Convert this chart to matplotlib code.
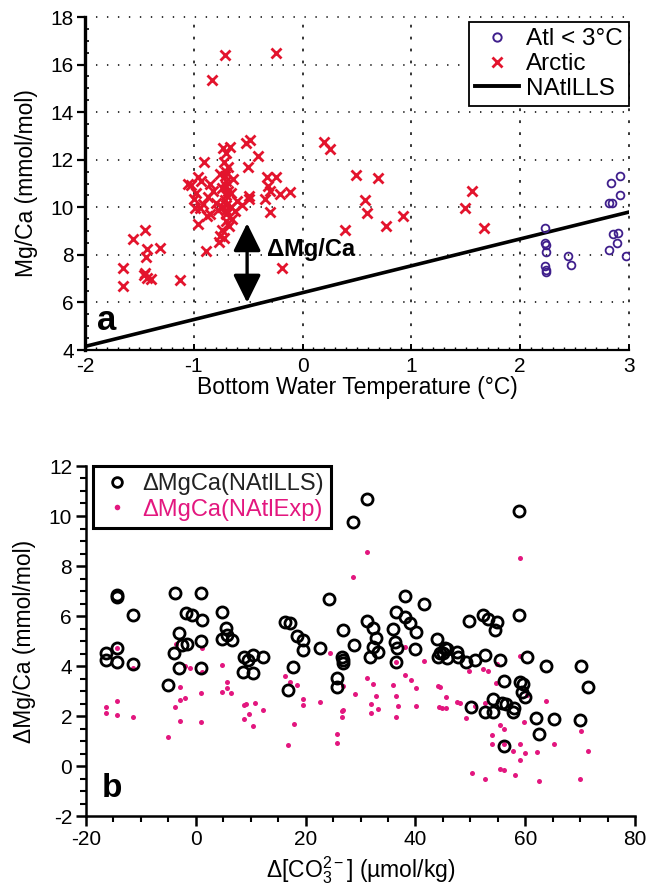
import matplotlib
matplotlib.use("Agg")
import matplotlib.pyplot as plt
from matplotlib.ticker import MultipleLocator
from matplotlib.lines import Line2D

plt.rcParams['font.family'] = ['Liberation Sans', 'DejaVu Sans']
plt.rcParams['mathtext.fontset'] = 'custom'
plt.rcParams['mathtext.rm'] = 'Liberation Sans'
plt.rcParams['mathtext.it'] = 'Liberation Sans:italic'
plt.rcParams['mathtext.bf'] = 'Liberation Sans:bold'
plt.rcParams['lines.scale_dashes'] = False
plt.rcParams['axes.unicode_minus'] = False

# ---------------- panel a data ----------------
atl_T = [2.23, 2.23, 2.24, 2.24, 2.23, 2.24, 2.24, 2.44, 2.47,
         2.83, 2.92, 2.92, 2.82, 2.84, 2.85, 2.90, 2.89, 2.82, 2.97]
atl_mgca = [9.15, 8.48, 8.40, 8.12, 7.52, 7.38, 7.27, 7.96, 7.59,
            11.02, 11.33, 10.52, 10.17, 10.20, 8.86, 8.90, 8.51, 8.20, 7.95]

arctic_T = [-1.65, -1.65, -1.56, -1.45, -1.43, -1.44, -1.31, -1.46, -1.43, -1.39, -1.13, -1.45,
            -1.05, -1.03, -0.96, -0.93, -0.98, -1.00, -0.99, -0.94, -0.96, -0.88, -0.85, -0.89,
            -0.91, -0.92, -0.87, -0.85, -0.82, -0.80, -0.78, -0.77, -0.76, -0.74, -0.72, -0.68,
            -0.70, -0.65,
            -0.70, -0.70, -0.70, -0.71, -0.70, -0.69, -0.70, -0.70, -0.71, -0.70, -0.69, -0.72,
            -0.73, -0.67, -0.70, -0.66, -0.66, -0.64, -0.74, -0.74, -0.76,
            -0.60, -0.49, -0.49, -0.52, -0.48, -0.41, -0.50, -0.33, -0.24, -0.30, -0.21, -0.12,
            -0.35, -0.32, -0.30, -0.19, -0.62, -0.56,
            -0.71, -0.245, -0.83,
            0.20, 0.25, 0.49, 0.69, 0.57, 0.59, 0.39, 0.77, 0.92, 1.49, 1.56, 1.67]
arctic_mgca = [7.45, 6.71, 8.68, 9.03, 8.23, 7.92, 8.27, 7.17, 7.03, 6.99, 6.96, 7.25,
               10.98, 10.95, 11.26, 11.12, 10.60, 10.34, 9.99, 9.99, 9.29, 9.64, 9.71, 8.16,
               11.89, 10.15, 10.45, 11.00, 10.70, 10.20, 9.90, 8.55, 8.80, 9.05, 8.70, 9.20,
               9.43, 9.50,
               9.70, 9.90, 10.10, 10.30, 10.50, 10.70, 10.90, 11.10, 11.30, 11.50, 11.70, 11.90,
               12.49, 12.53, 12.30, 10.00, 10.60, 11.20, 10.80, 10.00, 11.40,
               10.27, 10.49, 10.34, 12.70, 12.84, 12.17, 11.71, 11.26, 11.26, 10.69, 10.55, 10.65,
               10.34, 10.90, 9.80, 7.45, 9.85, 10.10,
               16.40, 16.47, 15.35,
               12.74, 12.46, 11.37, 11.22, 10.31, 9.78, 9.03, 9.22, 9.64, 9.96, 10.69, 9.12]

# NAtlLLS calibration line end points
lls_T = [-2.0, 3.0]
lls_mgca = [4.15, 9.80]

# Delta Mg/Ca arrow (temperature, lower and upper Mg/Ca)
arrow_T = -0.51
arrow_lo = 5.99
arrow_hi = 9.33

# ---------------- panel b data ----------------
lls_dco3 = [-14.3, -14.3, -11.4, -16.4, -16.4, -14.3, -14.3, -11.4, -5.0, -3.8, 0.9, -1.8, -0.75,
            1.07, 4.72, -3.0, 5.5, 5.66, 4.72, 6.54, -2.57, -1.66, -3.92, 0.89, -3.0, 0.89,
            8.85, 9.58, 10.49, 12.19, 8.67, 10.36,
            31.1, 28.7, 24.3, 16.25, 17.16, 18.37, 19.46, 19.46, 22.6, 17.77, 16.86, 26.74, 28.87,
            26.56, 26.74, 26.74, 25.65, 25.65, 31.1, 32.3, 32.8, 32.3, 33.2, 31.7, 36.5, 38.1,
            39.0, 38.1, 41.6, 35.85, 36.3, 36.7, 36.4, 40.2, 39.9, 44.0, 44.4, 45.0, 45.7, 44.2,
            45.7,
            58.9, 58.9, 49.8, 52.4, 53.3, 54.8, 54.5, 47.5, 47.8, 49.3, 50.9, 52.7, 55.4, 60.4,
            63.8, 70.1, 71.4, 56.1, 59.05, 59.65, 59.4, 60.0, 54.1, 55.7, 56.5, 58.0, 50.2, 52.7,
            54.2, 57.7, 62.0, 65.3, 70.0, 62.5, 56.2, 45.4]
lls_dmgca = [6.84, 6.77, 6.04, 4.51, 4.24, 4.71, 4.17, 4.08, 3.24, 6.91, 6.91, 6.11, 6.04,
             5.84, 6.17, 5.31, 5.51, 5.24, 5.08, 5.04, 4.84, 4.87, 4.51, 5.00, 3.91, 3.91,
             4.37, 4.24, 4.44, 4.37, 3.77, 3.73,
             10.68, 9.77, 6.67, 5.75, 5.71, 5.21, 5.04, 4.64, 4.71, 3.97, 3.04, 5.44, 4.84,
             4.37, 4.24, 4.13, 3.51, 3.17, 5.80, 5.51, 5.11, 4.77, 4.57, 4.37, 6.17, 5.97,
             5.71, 6.80, 6.47, 5.48, 4.97, 4.71, 4.15, 5.35, 4.68, 5.08, 4.54, 4.51, 4.68, 4.37,
             4.33,
             10.20, 6.04, 5.81, 6.04, 5.87, 5.75, 5.44, 4.57, 4.37, 4.17, 4.24, 4.44, 4.24, 4.37,
             4.00, 4.00, 3.17, 3.41, 3.37, 3.28, 2.97, 2.75, 2.70, 2.53, 2.48, 2.31, 2.37, 2.17,
             2.17, 2.17, 1.93, 1.87, 1.84, 1.27, 0.80, 4.71]

exp_dco3 = [-14.3, -11.38, -3.67, 1.07, -1.97, -1.06, 1.07, 4.72, 5.61, 5.61, 4.72, 6.41, -2.88,
            -2.88, -1.97, -3.79, 0.89, -14.4, -16.36, -16.36, -14.4, -11.38, -5.0, -2.88, 0.95,
            8.8, 9.1, 9.7, 10.8, 12.2, 8.8, 10.4,
            31.1, 28.57, 24.4, 16.25, 17.16, 18.4, 19.46, 19.46, 22.6, 17.9, 16.86, 25.65, 25.65,
            26.56, 26.86, 26.56, 26.86, 29.0, 31.2, 32.3, 32.0, 32.8, 33.2, 31.9, 35.85, 36.5,
            36.9, 36.5, 36.5, 38.1, 38.1, 39.2, 40.2, 40.1, 41.6, 44.1, 45.6, 44.3, 44.8, 45.6,
            47.6, 48.1,
            49.3, 50.9, 52.7, 54.7, 60.4, 63.8, 59.8, 55.4, 56.2, 54.0, 54.0, 56.1, 59.05, 57.7,
            60.0, 59.05, 62.1, 65.3, 70.1, 71.4, 55.4, 56.1, 50.4, 52.7, 58.1, 62.5, 70.0,
            59.05, 59.05, 54.8, 49.8, 52.4, 53.3, 44.5]
exp_dmgca = [4.71, 3.91, 4.90, 4.73, 4.00, 3.91, 3.77, 4.04, 3.35, 3.13, 2.97, 2.93, 3.17,
             2.64, 2.73, 2.37, 2.91, 2.61, 2.37, 2.11, 2.04, 1.95, 1.15, 1.80, 1.77,
             2.44, 2.48, 2.08, 2.53, 2.24, 1.87, 1.61,
             8.55, 7.55, 4.54, 3.61, 3.37, 3.24, 2.70, 2.46, 2.57, 1.70, 0.84, 1.28, 0.93,
             2.21, 2.24, 1.95, 3.20, 2.88, 3.51, 3.28, 2.50, 2.80, 2.27, 2.11, 3.24, 2.80,
             2.41, 1.97, 4.17, 4.75, 3.64, 3.44, 3.11, 2.41, 4.20, 3.20, 2.77, 2.37, 2.31, 2.33,
             2.57, 2.51,
             1.93, 2.40, 2.53, 3.31, 2.84, 2.60, 1.77, 1.66, 1.47, 1.24, 0.87, 0.87, 0.87, 0.61,
             0.53, 0.24, 0.57, 0.87, 1.40, 0.61, -0.13, -0.16, -0.29, -0.51, -0.36, -0.60, -0.52,
             8.31, 4.40, 4.08, 3.81, 3.88, 3.81, 3.17]

ATL_C = '#3f1f8c'
ARC_C = '#e3142d'
EXP_C = '#e3177f'
TICK_FS = 15
LABEL_FS = 16.5

W, H = 655, 888
fig = plt.figure(figsize=(W / 100, H / 100), dpi=100)

def frac(l, t, r, b):
    return [l / W, 1 - b / H, (r - l) / W, (b - t) / H]

# ---------------- panel a ----------------
ax1 = fig.add_axes(frac(85, 17, 629, 350))
ax1.set_xlim(-2, 3)
ax1.set_ylim(4, 18)
for s in ('top', 'right'):
    ax1.spines[s].set_visible(False)
ax1.spines['left'].set_linewidth(2.4)
ax1.spines['bottom'].set_linewidth(1.6)

# dotted grid, horizontal and vertical lines with different dot patterns
for yv in range(6, 19, 2):
    ax1.axhline(yv, color='black', lw=1.1, ls=(0, (1.0, 6.9)), zorder=0, clip_on=False)
for xv in range(-1, 4):
    ax1.axvline(xv, color='black', lw=1.1, ls=(0, (2.0, 6.6)), zorder=0, clip_on=False)

ax1.xaxis.set_major_locator(MultipleLocator(1))
ax1.xaxis.set_minor_locator(MultipleLocator(0.1))
ax1.yaxis.set_major_locator(MultipleLocator(2))
ax1.yaxis.set_minor_locator(MultipleLocator(0.5))
ax1.tick_params(axis='y', which='major', direction='out', length=6, width=1.6, labelsize=TICK_FS, pad=2)
ax1.tick_params(axis='y', which='minor', direction='in', length=3, width=1.2)
ax1.tick_params(axis='x', which='major', direction='in', length=4, width=1.4, labelsize=TICK_FS, pad=5)
ax1.tick_params(axis='x', which='minor', direction='in', length=2.5, width=1.0)

ax1.plot(lls_T, lls_mgca, color='black', lw=2.6, zorder=3)
ax1.plot(arctic_T, arctic_mgca, ls='none', marker='x', ms=7, mew=2.0, color=ARC_C, zorder=4)
ax1.plot(atl_T, atl_mgca, ls='none', marker='o', ms=5.6, mew=1.3, mfc='none', mec=ATL_C, zorder=4)

ax1.annotate('', xy=(arrow_T, arrow_lo), xytext=(arrow_T, arrow_hi),
             arrowprops=dict(arrowstyle='<|-|>,head_length=0.85,head_width=0.42',
                             mutation_scale=20, lw=2.4, color='black',
                             shrinkA=0, shrinkB=0), zorder=5)
ax1.text(-0.33, (arrow_lo + arrow_hi) / 2 + 0.55, 'ΔMg/Ca', fontsize=17, fontweight='bold',
         va='center', ha='left')
ax1.text(0.022, 0.06, 'a', transform=ax1.transAxes, fontsize=25, fontweight='bold',
         ha='left', va='baseline')

ax1.set_xlabel('Bottom Water Temperature (°C)', fontsize=LABEL_FS, labelpad=0)
ax1.set_ylabel('Mg/Ca (mmol/mol)', fontsize=LABEL_FS, labelpad=9)

h_atl = Line2D([], [], ls='none', marker='o', ms=6, mew=1.4, mfc='none', mec=ATL_C)
h_arc = Line2D([], [], ls='none', marker='x', ms=7, mew=2.0, color=ARC_C)
h_lls = Line2D([], [], color='black', lw=2.8)
leg1 = ax1.legend([h_atl, h_arc, h_lls], ['Atl < 3°C', 'Arctic', 'NAtlLLS'],
                  loc='upper right', bbox_to_anchor=(1.0, 0.985), borderaxespad=0,
                  fontsize=17.5, fancybox=False, framealpha=1, edgecolor='black',
                  handlelength=1.8, handletextpad=0.3, labelspacing=0.12,
                  borderpad=0.25)
leg1.get_frame().set_linewidth(1.3)

# ---------------- panel b ----------------
ax2 = fig.add_axes(frac(86, 466, 635, 816))
ax2.set_xlim(-20, 80)
ax2.set_ylim(-2, 12)
for s in ('top', 'right'):
    ax2.spines[s].set_visible(False)
for s in ('left', 'bottom'):
    ax2.spines[s].set_linewidth(1.8)
ax2.xaxis.set_major_locator(MultipleLocator(20))
ax2.xaxis.set_minor_locator(MultipleLocator(5))
ax2.yaxis.set_major_locator(MultipleLocator(2))
ax2.yaxis.set_minor_locator(MultipleLocator(0.5))
ax2.tick_params(axis='both', which='major', direction='out', length=7, width=1.8,
                labelsize=TICK_FS, pad=3)
ax2.tick_params(axis='both', which='minor', direction='out', length=4.5, width=1.5)

ax2.plot(exp_dco3, exp_dmgca, ls='none', marker='o', ms=3.6, mew=0, color=EXP_C, zorder=3)
ax2.plot(lls_dco3, lls_dmgca, ls='none', marker='o', ms=8, mew=2.0, mfc='none', mec='black', zorder=4)

ax2.text(0.029, 0.054, 'b', transform=ax2.transAxes, fontsize=24, fontweight='bold',
         ha='left', va='baseline')
ax2.set_xlabel('Δ[CO$_3^{2-}$] (µmol/kg)', fontsize=LABEL_FS, labelpad=4)
ax2.set_ylabel('ΔMg/Ca (mmol/mol)', fontsize=LABEL_FS, labelpad=9)

h_l = Line2D([], [], ls='none', marker='o', ms=7, mew=2.0, mfc='none', mec='black')
h_e = Line2D([], [], ls='none', marker='o', ms=4, mew=0, color=EXP_C)
leg2 = ax2.legend([h_l, h_e], ['ΔMgCa(NAtlLLS)', 'ΔMgCa(NAtlExp)'],
                  loc='upper left', bbox_to_anchor=(0.013, 1.0), borderaxespad=0,
                  fontsize=17, fancybox=False, framealpha=1, edgecolor='black',
                  handlelength=1.4, handletextpad=0.4, labelspacing=0.15, borderpad=0.3)
leg2.get_frame().set_linewidth(2.2)
leg2.get_texts()[0].set_color('#222222')
leg2.get_texts()[1].set_color(EXP_C)

fig.savefig('out.png', dpi=100)
